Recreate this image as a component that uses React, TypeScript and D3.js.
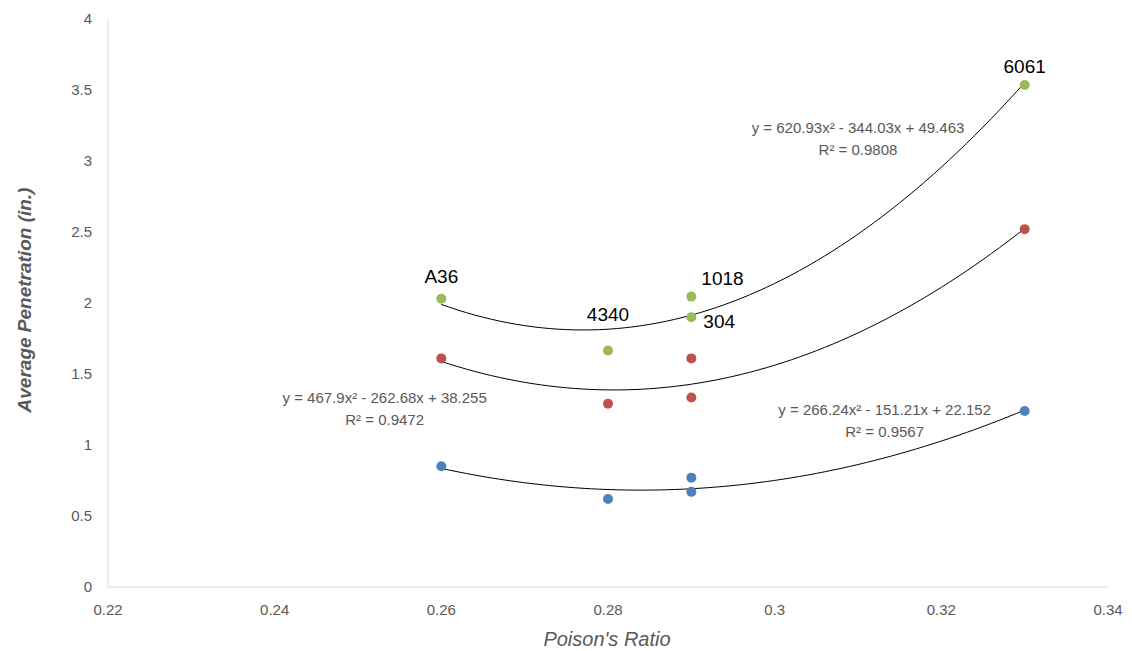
import React from "react";
import * as d3 from "d3";

const labels = ["A36", "4340", "1018", "304", "6061"];
const poisson = [0.26, 0.28, 0.29, 0.29, 0.33];
const greenVals = [2.03, 1.665, 2.045, 1.9, 3.535];
const redVals = [1.61, 1.29, 1.61, 1.335, 2.52];
const blueVals = [0.85, 0.62, 0.77, 0.67, 1.24];

const xTicks = [0.22, 0.24, 0.26, 0.28, 0.3, 0.32, 0.34];
const yTicks = [0, 0.5, 1, 1.5, 2, 2.5, 3, 3.5, 4];

const series = [
  { name: "green", color: "#9bbb59", values: greenVals, coef: [620.93, -344.03, 49.463], eq: ["y = 620.93x² - 344.03x + 49.463", "R² = 0.9808"], eqPos: [0.3100, 3.197] },
  { name: "red", color: "#c0504d", values: redVals, coef: [467.9, -262.68, 38.255], eq: ["y = 467.9x² - 262.68x + 38.255", "R² = 0.9472"], eqPos: [0.2532, 1.296] },
  { name: "blue", color: "#4f81bd", values: blueVals, coef: [266.24, -151.21, 22.152], eq: ["y = 266.24x² - 151.21x + 22.152", "R² = 0.9567"], eqPos: [0.3132, 1.211] },
];

const labelOffsets: Record<string, [number, number, string]> = {
  A36: [0, -16, "middle"],
  "4340": [0, -30, "middle"],
  "1018": [10, -12, "start"],
  "304": [12, 11, "start"],
  "6061": [0, -12, "middle"],
};

export default function App() {
  const W = 1132, H = 651;
  const x = d3.scaleLinear().domain([0.22, 0.34]).range([108, 1108]);
  const y = d3.scaleLinear().domain([0, 4]).range([587, 19]);
  const font = "'Liberation Sans', Arial, sans-serif";
  const gray = "#595959";

  const curve = (c: number[]) => {
    const xs = d3.range(0.26, 0.330001, 0.001);
    const line = d3.line<number>().x((v) => x(v)).y((v) => y(c[0] * v * v + c[1] * v + c[2])).curve(d3.curveMonotoneX);
    return line(xs) || "";
  };

  return (
    <svg width={W} height={H} style={{ position: "absolute", left: 0, top: 0, background: "#fff" }} fontFamily={font}>
      <line x1={x(0.22)} x2={x(0.22)} y1={y(4)} y2={y(0)} stroke="#d9d9d9" strokeWidth={1} />
      <line x1={x(0.22)} x2={x(0.34)} y1={y(0)} y2={y(0)} stroke="#d9d9d9" strokeWidth={1} />
      {yTicks.map((t) => (
        <text key={"y" + t} x={92} y={y(t) + 5} textAnchor="end" fontSize={15} fill={gray}>{t}</text>
      ))}
      {xTicks.map((t) => (
        <text key={"x" + t} x={x(t)} y={615} textAnchor="middle" fontSize={15} fill={gray}>{t}</text>
      ))}
      <text x={607} y={646} textAnchor="middle" fontSize={20} fontStyle="italic" fill={gray}>Poison's Ratio</text>
      <text transform={`translate(31,300) rotate(-90)`} textAnchor="middle" fontSize={19} fontStyle="italic" fontWeight="bold" fill={gray}>Average Penetration (in.)</text>

      {series.map((s) => (
        <g key={s.name}>
          <path d={curve(s.coef)} fill="none" stroke="#000" strokeWidth={1} />
          {s.values.map((v, i) => (
            <circle key={i} cx={x(poisson[i])} cy={y(v)} r={5} fill={s.color} />
          ))}
          <text x={x(s.eqPos[0])} y={y(s.eqPos[1])} textAnchor="middle" fontSize={15} fill={gray}>
            <tspan x={x(s.eqPos[0])} dy={0}>{s.eq[0]}</tspan>
            <tspan x={x(s.eqPos[0])} dy={22}>{s.eq[1]}</tspan>
          </text>
        </g>
      ))}

      {labels.map((l, i) => {
        const [dx, dy, anchor] = labelOffsets[l];
        return (
          <text key={l} x={x(poisson[i]) + dx} y={y(greenVals[i]) + dy} textAnchor={anchor as any} fontSize={19} fill="#000">{l}</text>
        );
      })}
    </svg>
  );
}
